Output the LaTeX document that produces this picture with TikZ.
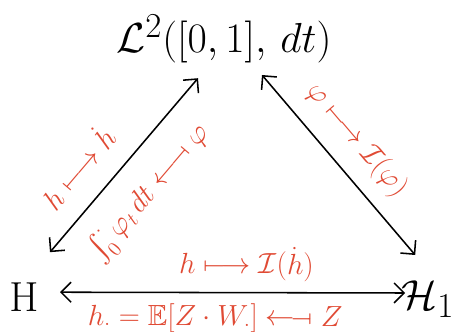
\documentclass[tikz,border=0pt]{standalone}
\usepackage{amsmath,amssymb,stmaryrd}
\usetikzlibrary{arrows.meta}
\definecolor{inkred}{RGB}{224,74,52}
\begin{document}
\begin{tikzpicture}[
  space/.style={font=\Huge, scale=1.2},
  map/.style={inkred, font=\huge, sloped},
  link/.style={line width=1.1pt,
    {Straight Barb[length=2.5mm,width=5mm]}-{Straight Barb[length=2.5mm,width=5mm]}}]
\useasboundingbox (0,0) rectangle (11.275,8.275);

% the three spaces
\node[space] (L) at (5.6,7.3) {$\mathcal{L}^2([0,1],\,dt)$};
\node[space] (H) at (0.6,0.85) {$\mathrm{H}$};
\node[space] (H1) at (10.7,0.8) {$\mathcal{H}_1$};

% isometries between them
\draw[link] ([shift={(0.65,1.12)}]H.center) -- ([shift={(-0.65,-0.98)}]L.center)
  node[map, pos=0.36, above=0.4cm] (dot) {$h \longmapsto \dot h$}
  node[map, pos=0.48, below=0.35cm] (int) {$\int_0^{\cdot} \varphi_t\,dt \longmapsfrom \varphi$};
\draw[link] ([shift={(0.95,-0.9)}]L.center) -- ([shift={(-0.32,1.1)}]H1.center)
  node[map, pos=0.47, above=0.25cm] (ito) {$\varphi \longmapsto \mathcal{I}(\varphi)$};
\draw[link] ([shift={(0.9,0.12)}]H.center) -- ([shift={(-0.57,0.15)}]H1.center)
  node[map, pos=0.54, above=0.15cm] (top) {$h \longmapsto \mathcal{I}(\dot h)$}
  node[map, pos=0.45, below=0.15cm] (bot) {$h_{\cdot} = \mathbb{E}[Z\cdot W_{\cdot}] \longmapsfrom Z$};
\end{tikzpicture}
\end{document}
